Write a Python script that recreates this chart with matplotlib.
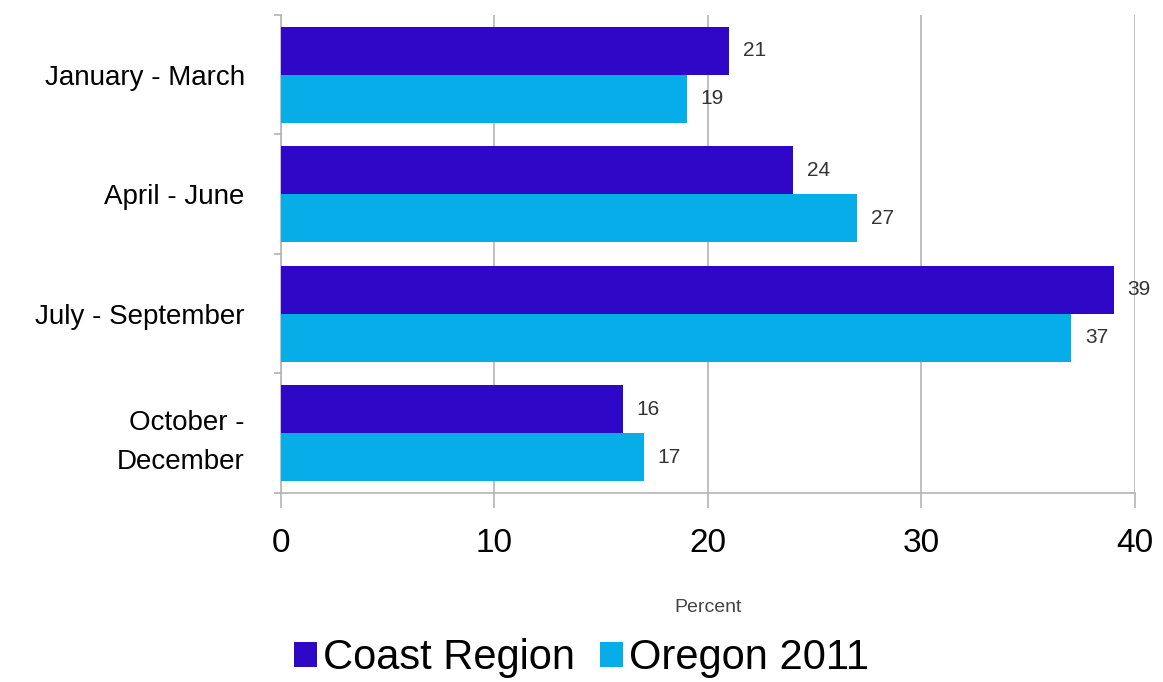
import numpy as np
import matplotlib
matplotlib.use("Agg")
import matplotlib.pyplot as plt

# data
quarters = ["January - March", "April - June", "July - September", "October -\nDecember"]
coast = [21, 24, 39, 16]
oregon = [19, 27, 37, 17]
series_names = ["Coast Region", "Oregon 2011"]
x_ticks = [0, 10, 20, 30, 40]

dark = "#2E08C6"
light = "#06ADE8"
grid_c = "#b4b4b4"

plt.rcParams['font.family'] = ['Liberation Sans', 'DejaVu Sans']

fig = plt.figure(figsize=(11.63, 6.82), dpi=100)
ax = fig.add_axes([0.2416, 0.2771, 0.7343, 0.701])

pos = np.arange(len(quarters))
h = 0.4
b1 = ax.barh(pos - h / 2, coast, height=h, color=dark, label=series_names[0], zorder=3)
b2 = ax.barh(pos + h / 2, oregon, height=h, color=light, label=series_names[1], zorder=3)

for bars, vals in ((b1, coast), (b2, oregon)):
    for rect, v in zip(bars, vals):
        ax.annotate(str(v), (v, rect.get_y() + rect.get_height() / 2),
                    xytext=(10, 0), textcoords="offset points",
                    va="center", ha="left", fontsize=15, color="#333333")

ax.set_xlim(0, 40)
ax.set_ylim(len(quarters) - 0.5, -0.5)
ax.set_xticks(x_ticks)
ax.tick_params(axis="x", labelsize=24, length=11, width=1.2, color=grid_c, pad=14)
ax.set_yticks(pos, quarters)
ax.tick_params(axis="y", which="major", length=0, labelsize=20, pad=26)
ax.set_yticks(np.arange(-0.5, len(quarters)), minor=True)
ax.tick_params(axis="y", which="minor", length=5, color=grid_c, width=1.2)
for lab in ax.get_yticklabels():
    lab.set_linespacing(1.65)

ax.grid(axis="x", color=grid_c, linewidth=1.2, zorder=0)
ax.spines["top"].set_visible(False)
ax.spines["right"].set_visible(False)
ax.spines["left"].set_color(grid_c)
ax.spines["bottom"].set_color(grid_c)
ax.spines["left"].set_linewidth(1.2)
ax.spines["bottom"].set_linewidth(1.2)

fig.text(708 / 1163, 1 - 607 / 682, "Percent", ha="center", va="center",
         fontsize=14, color="#444444")

fig.legend(loc="center", bbox_to_anchor=(0.5, 1 - 658 / 682), ncol=2, frameon=False,
           fontsize=30, handlelength=0.55, handleheight=0.55, handletextpad=0.15,
           columnspacing=0.6, borderpad=0)

fig.savefig("out.png", dpi=100)
